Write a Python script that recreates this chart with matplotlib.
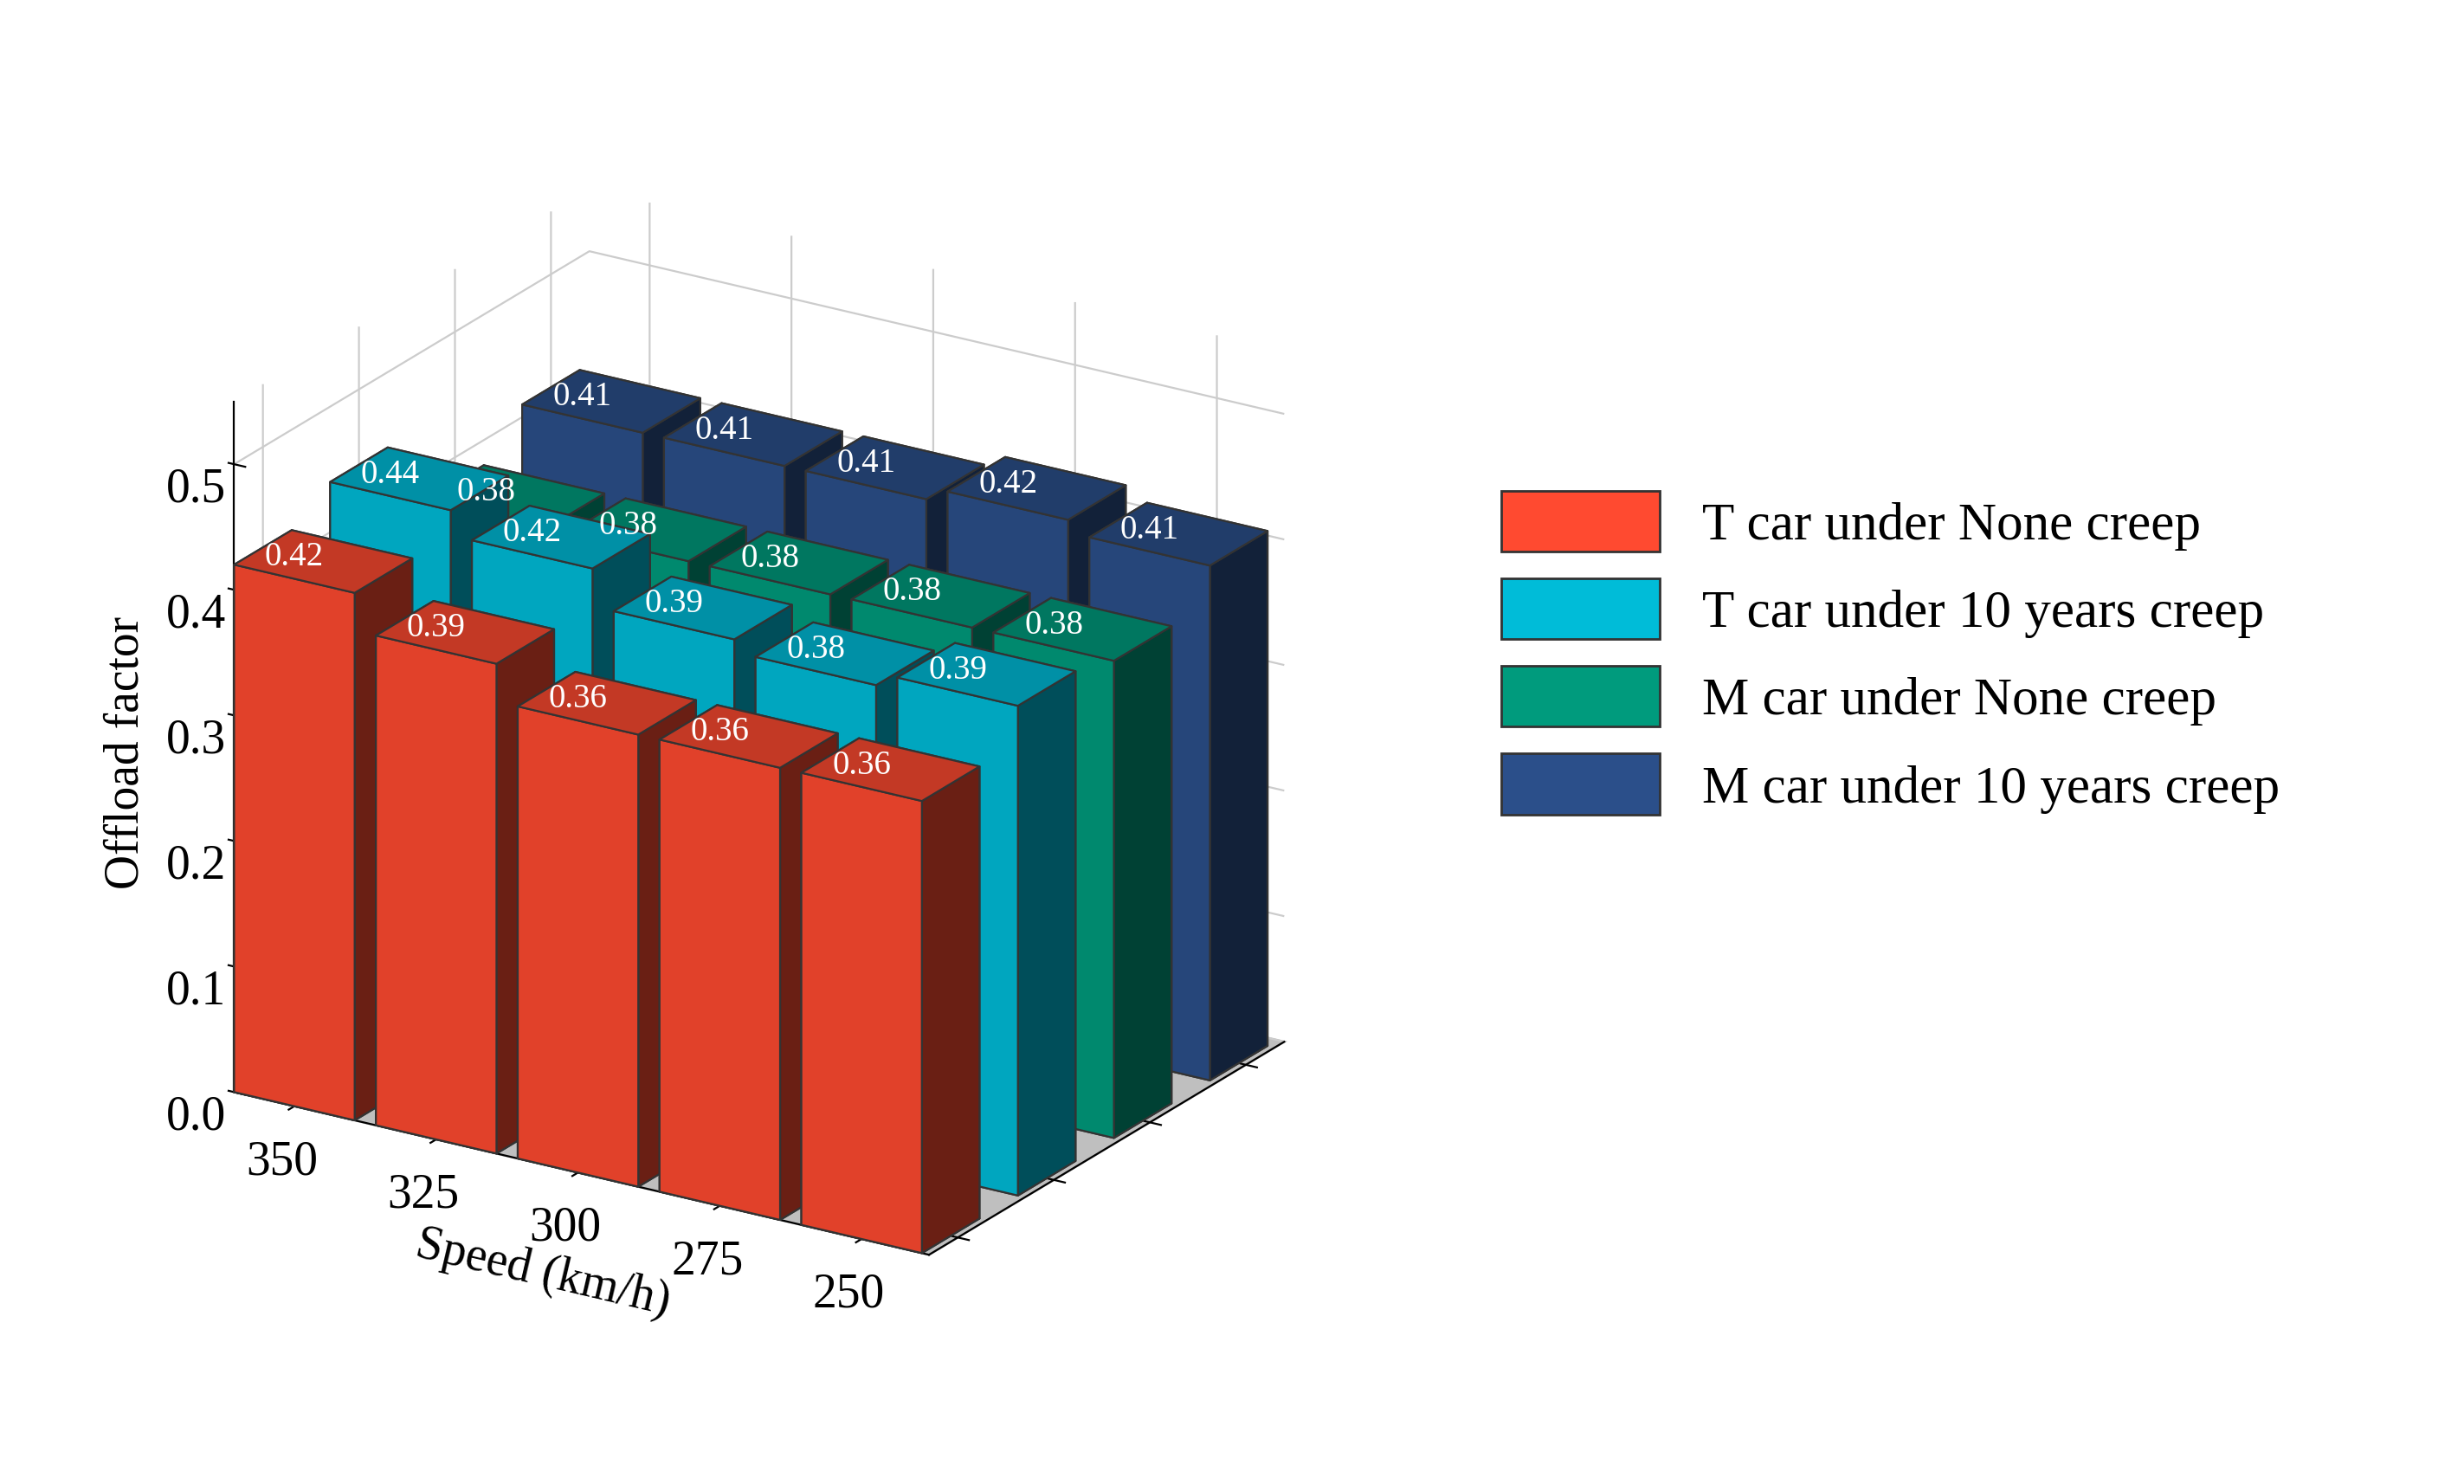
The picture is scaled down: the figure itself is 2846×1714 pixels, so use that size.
import numpy as np
import matplotlib.pyplot as plt
from matplotlib.patches import Patch

plt.rcParams['font.family'] = ['Liberation Serif', 'DejaVu Serif']

# === DATA ===
speeds = ['350', '325', '300', '275', '250']
series = ['T car under None creep', 'T car under 10 years creep',
          'M car under None creep', 'M car under 10 years creep']
t_none = [0.42, 0.39, 0.36, 0.36, 0.36]
t_10y = [0.44, 0.42, 0.39, 0.38, 0.39]
m_none = [0.38, 0.38, 0.38, 0.38, 0.38]
m_10y = [0.41, 0.41, 0.41, 0.42, 0.41]
values = [t_none, t_10y, m_none, m_10y]
colors = ['#FF4A30', '#00BCD8', '#009B7D', '#2B4F8A']

fig = plt.figure(figsize=(14.23, 8.575), dpi=200)
ax = fig.add_axes([0.0, 0.0, 0.6, 1.0], projection='3d', proj_type='ortho')

dx, dy = 0.85, 0.6
# draw back rows first
for j in reversed(range(len(series))):
    for i, v in enumerate(values[j]):
        ax.bar3d(i, j, 0, dx, dy, v, color=colors[j], edgecolor='#333333',
                 linewidth=0.8, shade=True)
        ax.text(i + dx / 2, j, v + 0.005, f'{v:.2f}', color='white',
                fontsize=14, ha='center', va='bottom', zorder=100)

ax.set_xticks(np.arange(len(speeds)) + dx / 2)
ax.set_xticklabels(speeds, fontsize=20)
ax.set_yticks(np.arange(len(series)) + dy / 2)
ax.set_yticklabels([])
ax.set_zlim(0, 0.55)
ax.set_zticks([0.0, 0.1, 0.2, 0.3, 0.4, 0.5])
ax.set_zticklabels(['0.0', '0.1', '0.2', '0.3', '0.4', '0.5'], fontsize=20)
ax.set_xlim(0, len(speeds) - 0.1)
ax.set_ylim(0, len(series) - 0.3)
ax.set_xlabel('Speed (km/h)', fontsize=20, labelpad=14)
ax.set_zlabel('Offload factor', fontsize=20, labelpad=12)
ax.zaxis._axinfo['juggled'] = (1, 2, 0)

ax.xaxis.set_pane_color((1, 1, 1, 1))
ax.yaxis.set_pane_color((1, 1, 1, 1))
ax.zaxis.set_pane_color((0.75, 0.75, 0.75, 1))
for a in (ax.xaxis, ax.yaxis, ax.zaxis):
    a._axinfo['grid']['color'] = (0.8, 0.8, 0.8, 1)
ax.view_init(elev=22, azim=-58)
ax.set_box_aspect((1.1, 0.9, 1.0), zoom=0.85)

handles = [Patch(facecolor=c, edgecolor='#333333', label=s) for c, s in zip(colors, series)]
fig.legend(handles=handles, loc='center left', bbox_to_anchor=(0.59, 0.56),
           fontsize=22, frameon=False, handlelength=3.0, handleheight=1.4)

fig.savefig('out.png')
